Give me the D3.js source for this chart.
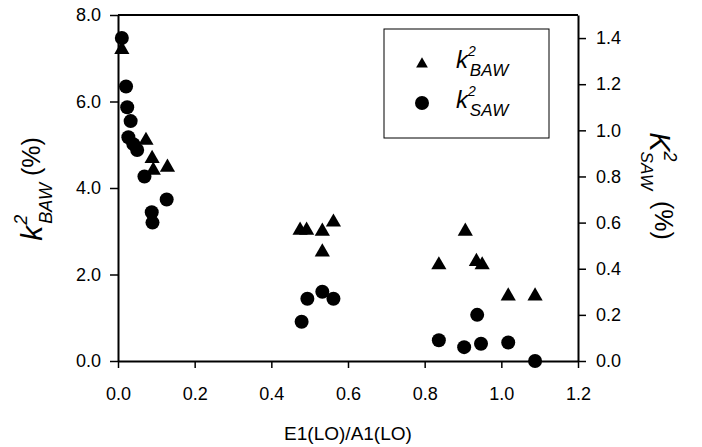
<!DOCTYPE html>
<html>
<head>
<meta charset="utf-8">
<script src="https://cdn.jsdelivr.net/npm/d3@7"></script>
<style>
  body { margin: 0; background: #fff; }
  text { font-family: "Liberation Sans", Arial, Helvetica, sans-serif; fill: #000; }
</style>
</head>
<body>
<div id="chart"></div>
<script>
// data
const bawX = [0.01, 0.073, 0.089, 0.092, 0.129, 0.475, 0.492, 0.533, 0.533, 0.562, 0.837, 0.906, 0.935, 0.95, 1.018, 1.088];
const bawY = [7.2, 5.1, 4.68, 4.41, 4.48, 3.02, 3.02, 3.0, 2.52, 3.21, 2.22, 3.0, 2.3, 2.22, 1.5, 1.5];

const sawX = [0.01, 0.021, 0.024, 0.027, 0.033, 0.04, 0.05, 0.069, 0.088, 0.09, 0.127, 0.479, 0.494, 0.533, 0.562, 0.837, 0.903, 0.937, 0.947, 1.018, 1.088];
const sawY = [1.40, 1.19, 1.10, 0.97, 1.04, 0.94, 0.915, 0.80, 0.645, 0.60, 0.70, 0.17, 0.27, 0.30, 0.27, 0.09, 0.06, 0.20, 0.075, 0.08, 0.0];

const xTicks = [0, 0.2, 0.4, 0.6, 0.8, 1.0, 1.2];
const leftTicks = [0, 2, 4, 6, 8];
const rightTicks = [0, 0.2, 0.4, 0.6, 0.8, 1.0, 1.2, 1.4];

// set the dimensions and margins of the graph
const margin = {top: 15, right: 124, bottom: 86, left: 118};
const width = 702 - margin.left - margin.right;
const height = 447 - margin.top - margin.bottom;

const x = d3.scaleLinear().domain([0, 1.2]).range([0, width]);
const yLeft = d3.scaleLinear().domain([0, 8]).range([height, 0]);
const yRight = d3.scaleLinear().domain([0, 1.5]).range([height, 0]);

const svg = d3.select("#chart").append("svg")
    .attr("width", 702)
    .attr("height", 447)
  .append("g")
    .attr("transform", "translate(" + margin.left + "," + margin.top + ")");

// top frame line
svg.append("line")
    .attr("x1", 0).attr("x2", width)
    .attr("y1", 0).attr("y2", 0)
    .attr("stroke", "#000").attr("stroke-width", 2);

function styleAxis(g) {
  g.select(".domain").attr("stroke-width", 2);
  g.selectAll(".tick line").attr("stroke-width", 1.5);
  g.selectAll(".tick text").style("font-size", "18px");
}

// add the x Axis
svg.append("g")
    .attr("transform", "translate(0," + height + ")")
    .call(d3.axisBottom(x).tickValues(xTicks).tickFormat(d3.format(".1f")).tickSize(7).tickSizeOuter(0).tickPadding(19))
    .call(styleAxis);

// add the left y Axis
svg.append("g")
    .call(d3.axisLeft(yLeft).tickValues(leftTicks).tickFormat(d3.format(".1f")).tickSize(8).tickSizeOuter(0).tickPadding(9))
    .call(styleAxis);

// add the right y Axis
svg.append("g")
    .attr("transform", "translate(" + width + ",0)")
    .call(d3.axisRight(yRight).tickValues(rightTicks).tickFormat(d3.format(".1f")).tickSize(8).tickSizeOuter(0).tickPadding(10))
    .call(styleAxis);

const tri = d3.symbol().type(d3.symbolTriangle).size(100);

// BAW triangles
svg.selectAll(".baw")
    .data(bawX.map((d, i) => [d, bawY[i]]))
    .enter().append("path")
    .attr("class", "baw")
    .attr("d", tri)
    .attr("transform", d => "translate(" + x(d[0]) + "," + yLeft(d[1]) + ")")
    .attr("fill", "#000");

// SAW circles
svg.selectAll(".saw")
    .data(sawX.map((d, i) => [d, sawY[i]]))
    .enter().append("circle")
    .attr("class", "saw")
    .attr("cx", d => x(d[0]))
    .attr("cy", d => yRight(d[1]))
    .attr("r", 7)
    .attr("fill", "#000");

// x axis title
svg.append("text")
    .attr("x", width / 2)
    .attr("y", height + 79)
    .style("text-anchor", "middle")
    .style("font-size", "19px")
    .text("E1(LO)/A1(LO)");

// left axis title
const lt = svg.append("text")
    .attr("transform", "translate(-76," + (height / 2 + 1) + ") rotate(-90)")
    .style("text-anchor", "middle");
lt.append("tspan").style("font-size", "30px").style("font-style", "italic").text("k");
lt.append("tspan").style("font-size", "18px").style("font-style", "italic").attr("dx", 1).attr("dy", -15).text("2");
lt.append("tspan").style("font-size", "18px").style("font-style", "italic").attr("dx", -9).attr("dy", 25).text("BAW");
lt.append("tspan").style("font-size", "25px").attr("dy", -12).text(" (%)");

// right axis title
const rt = svg.append("text")
    .attr("transform", "translate(" + (width + 72) + "," + (height / 2 - 2) + ") rotate(90)")
    .style("text-anchor", "middle");
rt.append("tspan").style("font-size", "29px").style("font-style", "italic").text("K");
rt.append("tspan").style("font-size", "18px").style("font-style", "italic").attr("dy", -14).text("2");
rt.append("tspan").style("font-size", "17px").style("font-style", "italic").attr("dx", -10).attr("dy", 23).text("SAW");
rt.append("tspan").style("font-size", "25px").attr("dx", 4).attr("dy", -14).text(" (%)");

// legend
const lg = svg.append("g").attr("transform", "translate(266,14)");
lg.append("rect")
    .attr("width", 165).attr("height", 109)
    .attr("fill", "#fff").attr("stroke", "#000").attr("stroke-width", 1);
lg.append("path")
    .attr("d", d3.symbol().type(d3.symbolTriangle).size(60))
    .attr("transform", "translate(38,35)")
    .attr("fill", "#000");
lg.append("circle").attr("cx", 38).attr("cy", 74).attr("r", 7).attr("fill", "#000");

function legendLabel(y, sub) {
  const t = lg.append("text").attr("x", 72).attr("y", y);
  t.append("tspan").style("font-size", "24px").style("font-style", "italic").text("k");
  t.append("tspan").style("font-size", "14px").style("font-style", "italic").attr("dy", -12).text("2");
  t.append("tspan").style("font-size", "17px").style("font-style", "italic").attr("dx", -6).attr("dy", 20).text(sub);
}
legendLabel(39, "BAW");
legendLabel(79, "SAW");
</script>
</body>
</html>
